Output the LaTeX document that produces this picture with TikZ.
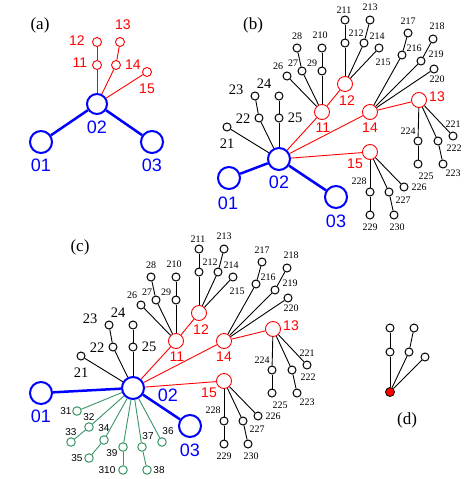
\documentclass[tikz,border=0pt]{standalone}
\usepackage{fontspec}
\setmainfont{Liberation Serif}
\setsansfont{Liberation Sans}
\definecolor{grn}{RGB}{55,150,100}

\tikzset{
  bignode/.style={circle, draw=blue, line width=2pt, minimum size=22pt, inner sep=0pt},
  midnode/.style={circle, draw=red, line width=0.9pt, minimum size=15pt, inner sep=0pt},
  rednode/.style={circle, draw=red, line width=0.9pt, minimum size=9pt, inner sep=0pt},
  blknode/.style={circle, draw=black, line width=1pt, minimum size=8pt, inner sep=0pt},
  grnnode/.style={circle, draw=grn, line width=1pt, minimum size=8.5pt, inner sep=0pt},
  rootnode/.style={circle, draw=black, fill=red, line width=0.8pt, minimum size=9pt, inner sep=0pt},
  bluelbl/.style={inner sep=0pt, text=blue, font=\sffamily\fontsize{18}{18}\selectfont},
  redlbl/.style={inner sep=0pt, text=red, font=\sffamily\fontsize{14}{14}\selectfont},
  blklbl/.style={inner sep=0pt, font=\fontsize{14.5}{14.5}\selectfont},
  smalllbl/.style={inner sep=0pt, font=\fontsize{10}{10}\selectfont},
  grnlbl/.style={inner sep=0pt, font=\sffamily\fontsize{10}{10}\selectfont},
  panellbl/.style={inner sep=0pt, font=\fontsize{17}{17}\selectfont},
  blueedge/.style={draw=blue, line width=2.5pt},
  rededge/.style={draw=red, line width=0.9pt},
  blkedge/.style={draw=black, line width=0.9pt},
  grnedge/.style={draw=grn, line width=0.9pt}
}

% common tree of panels (b) and (c), in the frame of panel (b)
\newcommand{\bigtree}{%
  \node[bignode] (02) at (279,159) {};
  \node[bignode] (03) at (336,197) {};
  \node[bluelbl] (l03) at (336,221) {03};
  % red branch
  \foreach \n/\x/\y in {11/322/112, 12/345/84, 14/370/112, 13/419/100, 15/370/152}
    \node[midnode] (\n) at (\x,\y) {};
  \foreach \n/\x/\y in {11/323/128, 12/347/101, 14/370/128, 13/437/97, 15/355/164}
    \node[redlbl] (l\n) at (\x,\y) {\n};
  % black leaves
  \foreach \n/\x/\y in {21/227/127, 22/259/118, 23/255/96, 24/279/96, 25/279/118,
      26/287/76, 27/302/71, 28/297/48, 29/322/71, 210/322/48,
      211/345/20, 212/345/43, 213/370/20, 214/364/43, 215/379/48,
      216/402/55, 217/408/33, 218/433/39, 219/421/61, 220/434/69,
      221/453/136, 222/438/141, 223/443/164, 224/418/141, 225/418/164,
      226/404/187, 227/389/192, 228/370/192, 229/370/215, 230/394/215}
    \node[blknode] (\n) at (\x,\y) {};
  \foreach \n/\x/\y in {21/227/144, 22/243/119, 23/236/90, 24/264/84, 25/295/118}
    \node[blklbl] (l\n) at (\x,\y) {\n};
  \foreach \n/\x/\y in {26/278/66, 27/293/63, 28/297/36, 29/312/63, 210/320/35,
      211/344/10, 212/356/33, 213/370/7, 214/377/36, 215/383/62,
      216/414/48, 217/408/21, 218/437/26, 219/436/54, 220/437/79,
      221/453/124, 222/454/148, 223/453/173, 224/408/131, 225/426/176,
      226/419/187, 227/403/200, 228/359/181, 229/370/227, 230/397/227}
    \node[smalllbl] (l\n) at (\x,\y) {\n};
  % edges
  \draw[blueedge] (02) -- (03);
  \foreach \a/\b in {02/11, 02/14, 02/15, 11/12, 14/13}
    \draw[rededge] (\a) -- (\b);
  \foreach \a/\b in {02/21, 02/22, 22/23, 02/25, 25/24,
      11/26, 11/27, 27/28, 11/29, 29/210,
      12/212, 212/211, 12/214, 214/213, 12/215,
      14/216, 216/217, 14/219, 219/218, 14/220,
      13/224, 224/225, 13/222, 222/223, 13/221,
      15/228, 228/229, 15/227, 227/230, 15/226}
    \draw[blkedge] (\a) -- (\b);
}

\begin{document}
\begin{tikzpicture}[x=1pt, y=-1pt]
  \useasboundingbox (0,0) rectangle (471,479);

  % (a)
  \node[panellbl] (pa) at (40,25) {(a)};
  \node[bignode, minimum size=20pt] (a02) at (97,104) {};
  \node[bignode] (a01) at (41,142) {};
  \node[bignode] (a03) at (152,142) {};
  \node[bluelbl] (la01) at (41,165) {01};
  \node[bluelbl] (la02) at (97,127) {02};
  \node[bluelbl] (la03) at (152,165) {03};
  \foreach \n/\x/\y in {11/97/65, 12/97/42, 14/116/65, 13/120/42, 15/147/72}
    \node[rednode] (a\n) at (\x,\y) {};
  \foreach \n/\x/\y in {12/77/41, 11/80/63, 13/123/25, 14/133/65, 15/147/89}
    \node[redlbl] (la\n) at (\x,\y) {\n};
  \draw[blueedge] (a01) -- (a02);
  \draw[blueedge] (a02) -- (a03);
  \foreach \a/\b in {02/11, 02/14, 02/15, 11/12, 14/13}
    \draw[rededge] (a\a) -- (a\b);

  % (b)
  \node[panellbl] (pb) at (253,25) {(b)};
  \begin{scope}[name prefix=b-]
    \bigtree
    \node[bignode] (01) at (229,178) {};
    \node[bluelbl] (l01) at (228,203) {01};
    \node[bluelbl] (l02) at (279,182) {02};
    \draw[blueedge] (01) -- (02);
  \end{scope}

  % (c)
  \node[panellbl] (pc) at (80,247) {(c)};
  \begin{scope}[name prefix=c-, shift={(-146,229)}]
    \bigtree
    \node[bignode] (01) at (187,164) {};
    \node[bluelbl] (l01) at (187,187) {01};
    \node[bluelbl] (l02) at (314,166) {02};
    \draw[blueedge] (01) -- (02);
  \end{scope}
  % green leaves of (c)
  \foreach \n/\x/\y in {31/77/411, 32/89/427, 33/71/442, 34/104/440, 35/89/458,
      36/162/442, 37/142/447, 38/147/470, 39/123/447, 310/123/470}
    \node[grnnode] (g\n) at (\x,\y) {};
  \foreach \n/\x/\y in {31/66/411, 32/89/417, 33/71/432, 34/104/428, 35/77/458,
      36/168/431, 37/148/436, 38/159/470, 39/112/453, 310/107/470}
    \node[grnlbl] (lg\n) at (\x,\y) {\n};
  \foreach \a/\b in {31/31, 32/32, 34/34, 39/39, 37/37, 36/36}
    \draw[grnedge] (c-02) -- (g\b);
  \foreach \a/\b in {32/33, 34/35, 39/310, 37/38}
    \draw[grnedge] (g\a) -- (g\b);

  % (d)
  \node[rootnode] (root) at (390,392) {};
  \foreach \n/\x/\y in {1/390/352, 2/390/328, 3/409/352, 4/414/328, 5/425/357}
    \node[blknode] (d\n) at (\x,\y) {};
  \foreach \a/\b in {root/d1, d1/d2, root/d3, d3/d4, root/d5}
    \draw[blkedge] (\a) -- (\b);
  \node[panellbl] (pd) at (407,420) {(d)};
\end{tikzpicture}
\end{document}
